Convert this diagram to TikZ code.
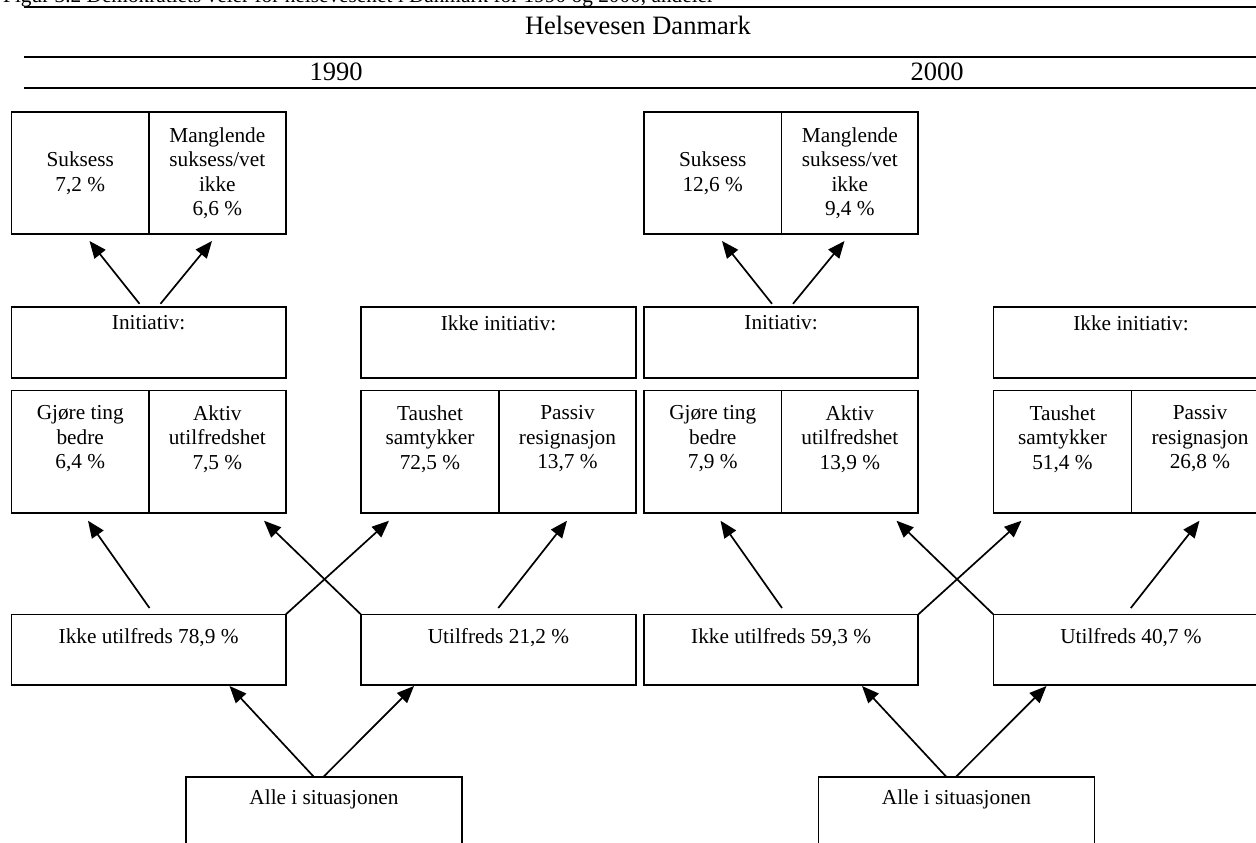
\documentclass[tikz,border=0pt]{standalone}
\usepackage{fontspec}
\setmainfont{Liberation Serif}
\usetikzlibrary{arrows.meta,calc}

% One year panel: #1 horizontal offset, #2..#9 the shares
\newcommand{\healthpanel}[9]{%
  % outcome of the initiative
  \node[cell, minimum width=137.5pt, minimum height=122pt] (suk) at (11.5+#1,112) {};
  \node[cell, minimum width=136.7pt, minimum height=122pt] (mang) at (149+#1,112) {};
  \node[txt] (suk-t) at (suk.center) {Suksess\\#2};
  \node[txt] (mang-t) at (mang.center) {Manglende\\suksess/vet\\ikke\\#3};
  % initiative / no initiative
  \node[cell, minimum width=274.2pt, minimum height=71pt] (init) at (11.5+#1,307.3) {};
  \node[txt, anchor=north] (init-t) at ($(init.north)+(0,8)$) {Initiativ:};
  \node[cell, minimum width=275pt, minimum height=71pt] (ikkeinit) at (361+#1,307.3) {};
  \node[txt, anchor=north] (ikkeinit-t) at ($(ikkeinit.north)+(0,8)$) {Ikke initiativ:};
  % the four ways
  \node[cell, minimum width=137.5pt, minimum height=122.7pt] (gjore) at (11.5+#1,390.5) {};
  \node[cell, minimum width=136.7pt, minimum height=122.7pt] (aktiv) at (149+#1,390.5) {};
  \node[cell, minimum width=138pt, minimum height=122.7pt] (taus) at (361+#1,390.5) {};
  \node[cell, minimum width=137pt, minimum height=122.7pt] (passiv) at (499+#1,390.5) {};
  \node[txt, anchor=north] (gjore-t) at ($(gjore.north)+(0,15)$) {Gjøre ting\\bedre\\#4};
  \node[txt, anchor=north] (aktiv-t) at ($(aktiv.north)+(0,15)$) {Aktiv\\utilfredshet\\#5};
  \node[txt, anchor=north] (taus-t) at ($(taus.north)+(0,15)$) {Taushet\\samtykker\\#6};
  \node[txt, anchor=north] (passiv-t) at ($(passiv.north)+(0,15)$) {Passiv\\resignasjon\\#7};
  % satisfied / dissatisfied
  \node[cell, minimum width=274.2pt, minimum height=70.5pt] (iu) at (11.5+#1,614.5) {};
  \node[cell, minimum width=275pt, minimum height=70.5pt] (u) at (361+#1,614.5) {};
  \node[txt, anchor=north] (iu-t) at ($(iu.north)+(0,14)$) {Ikke utilfreds #8};
  \node[txt, anchor=north] (u-t) at ($(u.north)+(0,14)$) {Utilfreds #9};
  % everybody
  \node[cell, minimum width=276pt, minimum height=100pt] (alle) at (186+#1,777) {};
  \node[txt, anchor=north] (alle-t) at ($(alle.north)+(0,13)$) {Alle i situasjonen};
  % connectors
  \draw[arr] ($(init.north west)+(128,-3.5)$) -- ($(suk.south west)+(78,7)$);
  \draw[arr] ($(init.north west)+(149,-3.5)$) -- ($(mang.south west)+(63,7)$);
  \draw[arr] ($(iu.north west)+(138,-6.5)$) -- ($(gjore.south west)+(76.5,7.5)$);
  \draw[arr] (iu.north east) -- ($(taus.south west)+(28,7.5)$);
  \draw[arr] (u.north west) -- ($(aktiv.south west)+(115,7.5)$);
  \draw[arr] ($(u.north west)+(137.3,-6.5)$) -- ($(passiv.south west)+(68,7.5)$);
  \draw[arr] ($(alle.north west)+(128,0)$) -- ($(iu.south west)+(218,1)$);
  \draw[arr] ($(alle.north west)+(137.3,0)$) -- ($(u.south west)+(53,1)$);
}

\begin{document}
\begin{tikzpicture}[x=1pt, y=-1pt,
  cell/.style={draw, line width=1.7pt, inner sep=0pt, outer sep=0pt, anchor=north west},
  txt/.style={font=\fontsize{21.3pt}{24.5pt}\selectfont, align=center, inner sep=0pt},
  capt/.style={font=\fontsize{21.3pt}{24.5pt}\selectfont, inner sep=0pt},
  head/.style={font=\fontsize{26.5pt}{30pt}\selectfont, inner sep=0pt},
  rule/.style={line width=2.4pt},
  arr/.style={line width=1.7pt, -{Triangle[length=17pt,width=14pt]}}]
\useasboundingbox (0,0) rectangle (1256,843);

% caption and table head
\node[capt, anchor=base west] (caption) at (3,2.5) {Figur 3.2 Demokratiets veier for helsevesenet i Danmark for 1990 og 2000, andeler};
\draw[rule] (24,7) -- (1260,7);
\node[head] (land) at (638,25) {Helsevesen Danmark};
\draw[rule] (24,57) -- (1260,57);
\node[head] (y1990) at (336,72) {1990};
\node[head] (y2000) at (937,72) {2000};
\draw[rule] (24,88) -- (1260,88);

\begin{scope}[name prefix=a-]
  \healthpanel{0}{7,2 \%}{6,6 \%}{6,4 \%}{7,5 \%}{72,5 \%}{13,7 \%}{78,9 \%}{21,2 \%}
\end{scope}
\begin{scope}[name prefix=b-]
  \healthpanel{632.5}{12,6 \%}{9,4 \%}{7,9 \%}{13,9 \%}{51,4 \%}{26,8 \%}{59,3 \%}{40,7 \%}
\end{scope}
\end{tikzpicture}
\end{document}
